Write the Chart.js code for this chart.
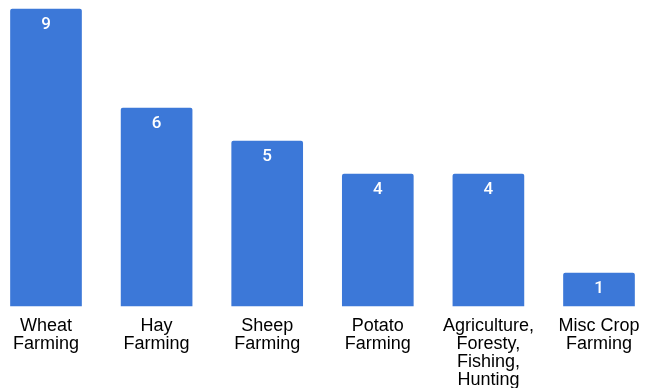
<!DOCTYPE html>
<html>
<head>
<meta charset="utf-8">
<script src="https://cdn.jsdelivr.net/npm/chart.js@4/dist/chart.umd.min.js"></script>
<style>
  html, body { margin: 0; padding: 0; background: #fff; }
  #wrap { width: 646px; height: 388px; }
</style>
</head>
<body>
<div id="wrap"><canvas id="myChart"></canvas></div>
<script>
const categories = [
  ['Wheat', 'Farming'],
  ['Hay', 'Farming'],
  ['Sheep', 'Farming'],
  ['Potato', 'Farming'],
  ['Agriculture,', 'Foresty,', 'Fishing,', 'Hunting'],
  ['Misc Crop', 'Farming']
];
const counts = [9, 6, 5, 4, 4, 1];

// white numbers inside the top of each bar
const valueLabels = {
  id: 'valueLabels',
  afterDatasetsDraw(chart) {
    const ctx = chart.ctx;
    const meta = chart.getDatasetMeta(0);
    ctx.save();
    ctx.fillStyle = '#ffffff';
    ctx.font = '500 17px Roboto';
    ctx.textAlign = 'center';
    ctx.textBaseline = 'middle';
    meta.data.forEach((bar, i) => {
      ctx.fillText(String(counts[i]), bar.x, bar.y + 16);
    });
    ctx.restore();
  }
};

const ctx = document.getElementById('myChart');
new Chart(ctx, {
  type: 'bar',
  data: {
    labels: categories,
    datasets: [{
      data: counts,
      backgroundColor: '#3c78d8',
      borderRadius: { topLeft: 2, topRight: 2 },
      borderSkipped: 'bottom',
      barThickness: 71,
      clip: false
    }]
  },
  options: {
    responsive: true,
    maintainAspectRatio: false,
    animation: false,
    layout: { padding: { top: 9, left: 46, right: 47, bottom: 0 } },
    plugins: {
      legend: { display: false },
      tooltip: { enabled: false }
    },
    scales: {
      x: {
        offset: false,
        grid: { display: false, drawTicks: false },
        border: { display: false },
        ticks: {
          color: '#000000',
          font: { family: 'Liberation Sans', size: 18, lineHeight: 1.0 },
          padding: 11,
          maxRotation: 0,
          autoSkip: false
        },
        afterFit(scale) {
          scale.height = 82;
          scale.paddingLeft = 0;
          scale.paddingRight = 0;
        }
      },
      y: {
        display: false,
        min: 0,
        max: 9
      }
    }
  },
  plugins: [valueLabels]
});
</script>
</body>
</html>
